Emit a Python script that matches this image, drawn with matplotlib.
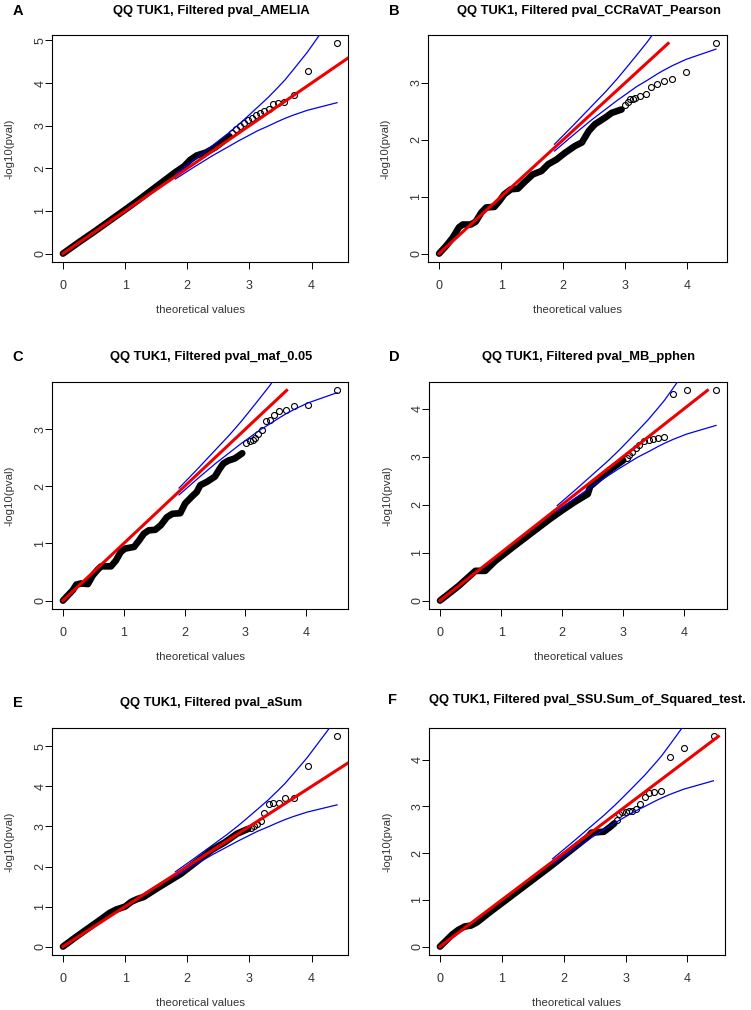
import matplotlib
matplotlib.use("Agg")
import matplotlib.pyplot as plt

plt.rcParams['font.family'] = ['Liberation Sans', 'DejaVu Sans']

# ---- panel A : AMELIA ----
a_dense_x = [0, 0.25, 0.5, 0.75, 1.0, 1.2, 1.4, 1.6, 1.8, 1.95, 2.05, 2.15, 2.3, 2.45, 2.6, 2.68]
a_dense_y = [0, 0.26, 0.51, 0.77, 1.03, 1.24, 1.46, 1.68, 1.90, 2.05, 2.20, 2.30, 2.37, 2.49, 2.66, 2.75]
a_tail_x = [2.72, 2.79, 2.85, 2.92, 2.97, 3.04, 3.11, 3.17, 3.24, 3.31, 3.38, 3.46, 3.56, 3.71, 3.94, 4.41]
a_tail_y = [2.83, 2.93, 2.99, 3.07, 3.13, 3.18, 3.24, 3.30, 3.34, 3.38, 3.50, 3.54, 3.55, 3.73, 4.28, 4.93]
a_band_x = [1.81, 2.11, 2.41, 2.64, 2.82, 2.95, 3.13, 3.30, 3.46, 3.57, 3.71, 3.93, 4.41]
a_band_lo = [1.75, 2.03, 2.30, 2.49, 2.64, 2.74, 2.88, 2.99, 3.10, 3.17, 3.25, 3.36, 3.54]
a_band_hi = [1.87, 2.20, 2.54, 2.80, 3.02, 3.19, 3.43, 3.66, 3.90, 4.07, 4.32, 4.72, 5.71]

# ---- panel B : CCRaVAT_Pearson ----
b_dense_x = [0, 0.11, 0.22, 0.32, 0.38, 0.51, 0.59, 0.68, 0.76, 0.89, 0.97, 1.05, 1.16, 1.27, 1.38,
             1.51, 1.65, 1.76, 1.89, 2.03, 2.19, 2.30, 2.41, 2.51, 2.68, 2.78, 2.94]
b_dense_y = [0, 0.13, 0.28, 0.46, 0.51, 0.51, 0.56, 0.72, 0.81, 0.82, 0.92, 1.04, 1.13, 1.14, 1.26,
             1.39, 1.45, 1.57, 1.65, 1.77, 1.89, 1.95, 2.15, 2.27, 2.39, 2.47, 2.53]
b_tail_x = [3.00, 3.04, 3.08, 3.12, 3.16, 3.24, 3.33, 3.42, 3.51, 3.62, 3.75, 3.97, 4.46]
b_tail_y = [2.60, 2.66, 2.71, 2.72, 2.74, 2.77, 2.81, 2.93, 2.98, 3.03, 3.06, 3.19, 3.69]
b_band_x = [1.86, 2.16, 2.46, 2.69, 2.87, 3.00, 3.18, 3.35, 3.51, 3.62, 3.76, 3.98, 4.46]
b_band_lo = [1.80, 2.08, 2.35, 2.54, 2.69, 2.79, 2.93, 3.04, 3.15, 3.22, 3.30, 3.41, 3.59]
b_band_hi = [1.92, 2.25, 2.59, 2.85, 3.07, 3.24, 3.48, 3.71, 3.95, 4.12, 4.37, 4.77, 5.76]

# ---- panel C : maf_0.05 ----
c_dense_x = [0, 0.08, 0.16, 0.22, 0.30, 0.41, 0.49, 0.57, 0.63, 0.79, 0.87, 0.95, 1.02, 1.17, 1.25,
             1.33, 1.41, 1.52, 1.61, 1.71, 1.80, 1.93, 2.01, 2.12, 2.20, 2.26, 2.37, 2.50, 2.58,
             2.64, 2.72, 2.83, 2.95]
c_dense_y = [0, 0.09, 0.18, 0.28, 0.30, 0.29, 0.44, 0.54, 0.60, 0.60, 0.70, 0.85, 0.91, 0.94, 1.05,
             1.17, 1.23, 1.24, 1.32, 1.46, 1.52, 1.53, 1.70, 1.82, 1.90, 2.02, 2.08, 2.17, 2.31,
             2.40, 2.45, 2.49, 2.58]
c_tail_x = [3.02, 3.07, 3.12, 3.16, 3.21, 3.27, 3.34, 3.40, 3.47, 3.55, 3.67, 3.81, 4.03, 4.51]
c_tail_y = [2.76, 2.79, 2.82, 2.85, 2.91, 2.99, 3.14, 3.17, 3.25, 3.32, 3.33, 3.40, 3.42, 3.68]
c_band_x = [1.91, 2.21, 2.51, 2.74, 2.92, 3.05, 3.23, 3.40, 3.56, 3.67, 3.81, 4.03, 4.51]
c_band_lo = [1.85, 2.13, 2.40, 2.59, 2.74, 2.84, 2.98, 3.09, 3.20, 3.27, 3.35, 3.46, 3.64]
c_band_hi = [1.97, 2.30, 2.64, 2.90, 3.12, 3.29, 3.53, 3.76, 4.00, 4.17, 4.42, 4.82, 5.81]

# ---- panel D : MB_pphen ----
d_dense_x = [0, 0.3, 0.58, 0.74, 0.9, 1.0, 1.2, 1.5, 1.8, 2.0, 2.2, 2.42, 2.46, 2.6, 2.8, 3.0]
d_dense_y = [0, 0.3, 0.62, 0.62, 0.82, 0.92, 1.12, 1.41, 1.70, 1.88, 2.05, 2.22, 2.38, 2.53, 2.74, 2.92]
d_tail_x = [3.06, 3.10, 3.15, 3.21, 3.26, 3.34, 3.42, 3.49, 3.57, 3.67, 3.81, 4.04, 4.52]
d_tail_y = [2.98, 3.03, 3.10, 3.18, 3.25, 3.32, 3.35, 3.37, 3.39, 3.40, 4.31, 4.38, 4.38]
d_band_x = [1.92, 2.22, 2.52, 2.75, 2.93, 3.06, 3.24, 3.41, 3.57, 3.68, 3.82, 4.04, 4.52]
d_band_lo = [1.86, 2.14, 2.41, 2.60, 2.75, 2.85, 2.99, 3.10, 3.21, 3.28, 3.36, 3.47, 3.65]
d_band_hi = [1.98, 2.31, 2.65, 2.91, 3.13, 3.30, 3.54, 3.77, 4.01, 4.18, 4.43, 4.83, 5.82]

# ---- panel E : aSum ----
e_dense_x = [0, 0.2, 0.4, 0.6, 0.75, 0.85, 1.0, 1.1, 1.2, 1.3, 1.5, 1.7, 1.9, 2.0, 2.2, 2.4, 2.6, 2.8, 2.98]
e_dense_y = [0, 0.23, 0.45, 0.67, 0.84, 0.92, 1.0, 1.12, 1.19, 1.24, 1.44, 1.63, 1.82, 1.94, 2.18, 2.42, 2.60, 2.82, 2.94]
e_tail_x = [3.03, 3.07, 3.12, 3.18, 3.24, 3.31, 3.38, 3.47, 3.57, 3.71, 3.94, 4.41]
e_tail_y = [2.97, 3.00, 3.07, 3.13, 3.33, 3.55, 3.59, 3.59, 3.72, 3.72, 4.50, 5.25]
e_band_x = [1.81, 2.11, 2.41, 2.64, 2.82, 2.95, 3.13, 3.30, 3.46, 3.57, 3.71, 3.93, 4.41]
e_band_lo = [1.75, 2.03, 2.30, 2.49, 2.64, 2.74, 2.88, 2.99, 3.10, 3.17, 3.25, 3.36, 3.54]
e_band_hi = [1.87, 2.20, 2.54, 2.80, 3.02, 3.19, 3.43, 3.66, 3.90, 4.07, 4.32, 4.72, 5.71]

# ---- panel F : SSU ----
f_dense_x = [0, 0.1, 0.2, 0.3, 0.4, 0.5, 0.6, 0.8, 1.0, 1.2, 1.5, 1.8, 2.0, 2.2, 2.4, 2.45, 2.65, 2.75, 2.82]
f_dense_y = [0, 0.13, 0.26, 0.36, 0.43, 0.45, 0.52, 0.73, 0.93, 1.13, 1.43, 1.73, 1.94, 2.15, 2.36, 2.44, 2.46, 2.56, 2.64]
f_tail_x = [2.86, 2.90, 2.95, 3.01, 3.06, 3.11, 3.17, 3.24, 3.31, 3.38, 3.46, 3.57, 3.72, 3.95, 4.43]
f_tail_y = [2.70, 2.83, 2.88, 2.88, 2.90, 2.90, 2.95, 3.06, 3.21, 3.28, 3.31, 3.34, 4.06, 4.25, 4.50]
f_band_x = [1.82, 2.12, 2.42, 2.65, 2.83, 2.96, 3.14, 3.31, 3.47, 3.58, 3.72, 3.94, 4.42]
f_band_lo = [1.76, 2.04, 2.31, 2.50, 2.65, 2.75, 2.89, 3.00, 3.11, 3.18, 3.26, 3.37, 3.55]
f_band_hi = [1.88, 2.21, 2.55, 2.81, 3.03, 3.20, 3.44, 3.67, 3.91, 4.08, 4.33, 4.73, 5.72]

titles = ["QQ TUK1, Filtered pval_AMELIA",
          "QQ TUK1, Filtered pval_CCRaVAT_Pearson",
          "QQ TUK1, Filtered pval_maf_0.05",
          "QQ TUK1, Filtered pval_MB_pphen",
          "QQ TUK1, Filtered pval_aSum",
          "QQ TUK1, Filtered pval_SSU.Sum_of_Squared_test."]
letters = ["A", "B", "C", "D", "E", "F"]

data = [
    (a_dense_x, a_dense_y, a_tail_x, a_tail_y, a_band_x, a_band_lo, a_band_hi),
    (b_dense_x, b_dense_y, b_tail_x, b_tail_y, b_band_x, b_band_lo, b_band_hi),
    (c_dense_x, c_dense_y, c_tail_x, c_tail_y, c_band_x, c_band_lo, c_band_hi),
    (d_dense_x, d_dense_y, d_tail_x, d_tail_y, d_band_x, d_band_lo, d_band_hi),
    (e_dense_x, e_dense_y, e_tail_x, e_tail_y, e_band_x, e_band_lo, e_band_hi),
    (f_dense_x, f_dense_y, f_tail_x, f_tail_y, f_band_x, f_band_lo, f_band_hi),
]

# pixel layout: plot box (left, right, top, bottom), title centre, letter x, row title y
boxes = [(52, 348, 35, 262), (428, 727, 35, 262),
         (52, 348, 382, 609), (429, 727, 382, 609),
         (52, 348, 728, 955), (429, 725, 728, 955)]
title_x = [211, 589, 211, 589, 211, 587]
title_y = [11, 11, 357, 357, 703, 700]
letter_x = [18, 394, 18, 394, 18, 393]

W, H = 751, 1010
fig = plt.figure(figsize=(W / 100, H / 100), dpi=100)
txt = '#333333'

for i in range(6):
    dx, dy, tx, ty, bx, blo, bhi = data[i]
    l, r, t, b = boxes[i]
    ax = fig.add_axes([l / W, 1 - b / H, (r - l) / W, (b - t) / H])

    # dense part of the points drawn as a thick trace, tail as open circles
    ax.plot(dx, dy, color='black', lw=4.8, solid_capstyle='round', solid_joinstyle='round', zorder=2)
    ax.plot(tx, ty, 'o', mfc='none', mec='black', ms=4.3, mew=0.8, zorder=2)
    ax.plot(bx, blo, color='#0000ee', lw=0.9, zorder=3)
    ax.plot(bx, bhi, color='#0000ee', lw=0.9, zorder=3)
    ymax = max(max(dy), max(ty))
    xmax = max(max(dx), max(tx))
    ax.plot([0, ymax], [0, ymax], color='#ee0000', lw=2.2, zorder=4)

    ax.set_xlim(-0.04 * xmax, 1.04 * xmax)
    ax.set_ylim(-0.04 * ymax, 1.04 * ymax)
    ax.set_xticks(range(0, 5))
    ax.set_yticks(range(0, int(1.04 * ymax) + 1))
    ax.tick_params(direction='out', length=5, width=0.7, labelsize=9, labelcolor=txt)
    ax.tick_params(axis='x', pad=8)
    ax.tick_params(axis='y', pad=-1, labelrotation=90)
    for lab in ax.get_yticklabels():
        lab.set_va('center')
    for s in ax.spines.values():
        s.set_linewidth(0.8)

    ax.set_xlabel("theoretical values", fontsize=8.2, color=txt)
    ax.set_ylabel("-log10(pval)", fontsize=8.2, color=txt)
    ax.xaxis.label.set_va('center')
    ax.yaxis.label.set_va('center')
    ax.xaxis.set_label_coords(0.5, -48 / (b - t))
    ax.yaxis.set_label_coords((10 - 52) / (r - l), 0.5)

    fig.text(title_x[i] / W, 1 - title_y[i] / H, titles[i], ha='center', va='center',
             fontsize=9.3, fontweight='bold')
    fig.text(letter_x[i] / W, 1 - title_y[i] / H, letters[i], ha='center', va='center',
             fontsize=10.5, fontweight='bold')

fig.savefig("out.png", dpi=100)
